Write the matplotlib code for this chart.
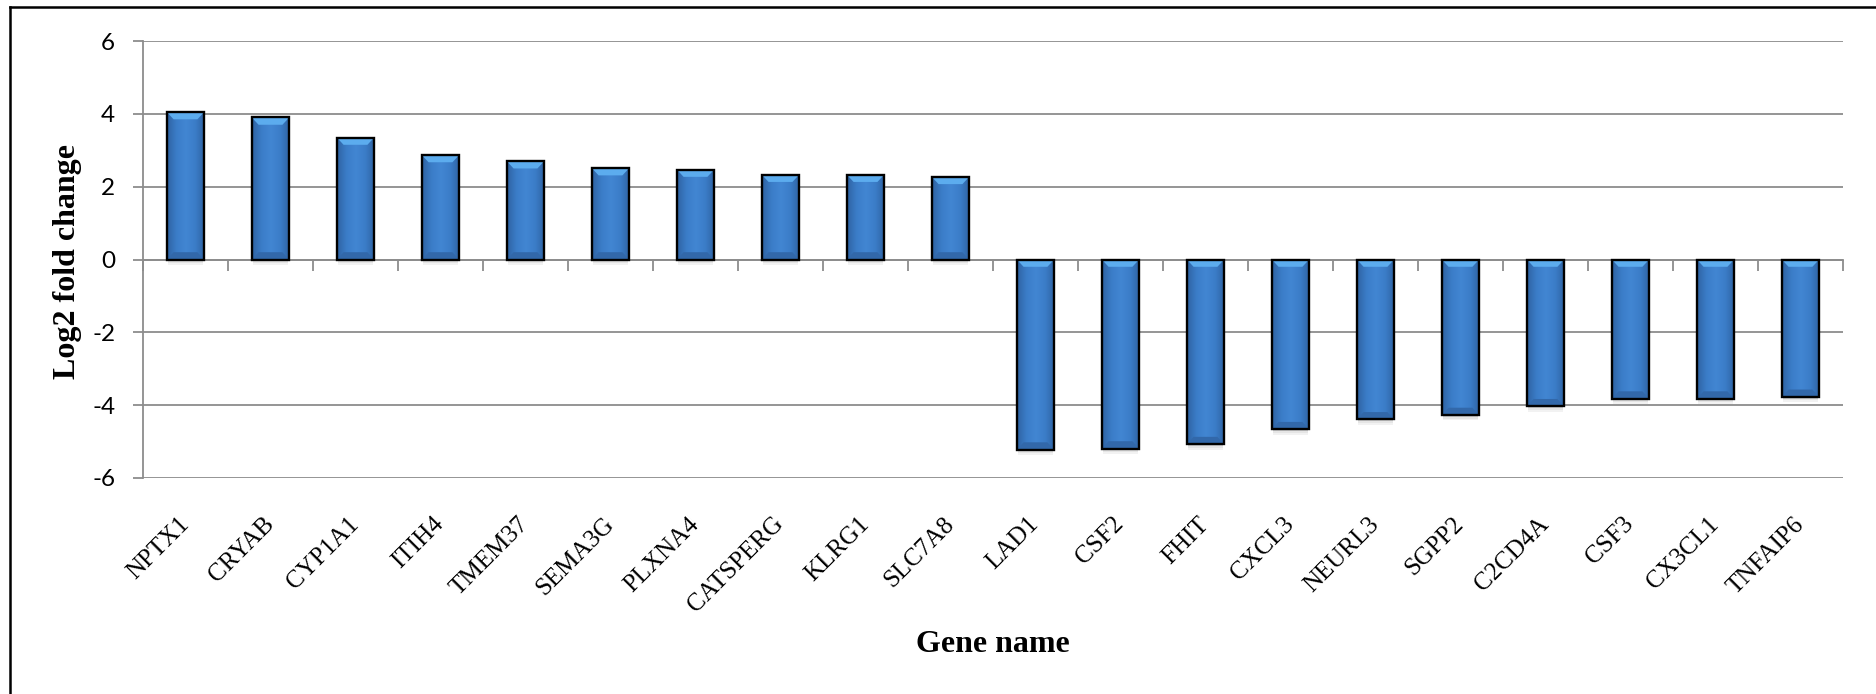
import numpy as np
import matplotlib
matplotlib.use('Agg')
import matplotlib.pyplot as plt
import matplotlib.transforms as mtransforms
from matplotlib.patches import Polygon, Rectangle
from matplotlib.lines import Line2D
from matplotlib.colors import LinearSegmentedColormap

genes = ['NPTX1', 'CRYAB', 'CYP1A1', 'ITIH4', 'TMEM37', 'SEMA3G', 'PLXNA4',
         'CATSPERG', 'KLRG1', 'SLC7A8', 'LAD1', 'CSF2', 'FHIT', 'CXCL3',
         'NEURL3', 'SGPP2', 'C2CD4A', 'CSF3', 'CX3CL1', 'TNFAIP6']
log2fc = [4.05, 3.90, 3.35, 2.87, 2.70, 2.51, 2.47, 2.33, 2.33, 2.27,
          -5.22, -5.19, -5.07, -4.66, -4.39, -4.27, -4.03, -3.82, -3.82, -3.77]
yticks = [-6, -4, -2, 0, 2, 4, 6]

W, H = 1876, 694
GRID = '#8c8c8c'

fig = plt.figure(figsize=(W / 100, H / 100), dpi=100)
ax = fig.add_axes([143 / W, 1 - 478 / H, 1700 / W, 437 / H])

x = np.arange(len(genes))
bar_w = 0.44
bars = ax.bar(x, log2fc, width=bar_w, facecolor='none', edgecolor='black',
              linewidth=1.7, zorder=5)

# bevelled blue fill for each bar
body = LinearSegmentedColormap.from_list(
    'body', ['#2f63a3', '#3b7dc8', '#4286d2', '#3b7dc8', '#2f63a3'])
grad = np.linspace(0, 1, 64).reshape(1, -1)
dx, dy = 0.08, 0.2
for b in bars:
    x0, w = b.get_x(), b.get_width()
    y0, h = b.get_y(), b.get_height()
    yb, yt = min(y0, y0 + h), max(y0, y0 + h)
    ax.imshow(grad, cmap=body, extent=[x0, x0 + w, yb, yt], aspect='auto',
              interpolation='bicubic', zorder=3)
    ax.add_patch(Polygon([(x0, yt), (x0 + w, yt), (x0 + w - dx, yt - dy),
                          (x0 + dx, yt - dy)], closed=True,
                         facecolor='#5cacee', edgecolor='none', zorder=4))
    ax.add_patch(Polygon([(x0, yb), (x0 + w, yb), (x0 + w - dx, yb + dy),
                          (x0 + dx, yb + dy)], closed=True,
                         facecolor='#3268aa', edgecolor='none', zorder=4))
    # soft drop shadow under the bar
    for k, a in enumerate([0.18, 0.10, 0.05]):
        ax.add_patch(Rectangle((x0 + 0.01, yb - 0.05 * (k + 1)), w - 0.02, 0.05,
                               facecolor='black', edgecolor='none', alpha=a,
                               zorder=2.9))

ax.set_xlim(-0.5, len(genes) - 0.5)
ax.set_ylim(-6, 6)
ax.set_yticks(yticks)
ax.set_yticklabels([str(t) for t in yticks], family='Lato', fontsize=17.5)
ax.yaxis.grid(True, color=GRID, linewidth=1.3)
ax.set_axisbelow(True)

ax.set_xticks(np.arange(len(genes) + 1) - 0.5)
ax.tick_params(axis='x', direction='out', length=8, width=1.3, color=GRID,
               labelbottom=False)
ax.tick_params(axis='y', direction='out', length=7, width=1.3, color=GRID, pad=13)

ax.spines['bottom'].set_position(('data', 0))
ax.spines['bottom'].set_color(GRID)
ax.spines['bottom'].set_linewidth(1.3)
ax.spines['left'].set_color(GRID)
ax.spines['left'].set_linewidth(1.3)
ax.spines['top'].set_visible(False)
ax.spines['right'].set_visible(False)

trans = mtransforms.blended_transform_factory(ax.transData, ax.transAxes)
for i, g in enumerate(genes):
    ax.text(i, -0.098, g, transform=trans, rotation=45, rotation_mode='anchor',
            ha='right', va='center', fontsize=18, family='Liberation Serif')

fig.text(67 / W, 0.6225, 'Log2 fold change', rotation=90, ha='center',
         va='center', fontsize=23, fontweight='bold', family='Liberation Serif')
fig.text(993 / W, 1 - 652 / H, 'Gene name', ha='center', va='baseline',
         fontsize=23, fontweight='bold', family='Liberation Serif')

# outer frame (left and top edges)
fig.add_artist(Line2D([10 / W, 10 / W], [0, 1 - 7 / H], color='black', lw=1.8))
fig.add_artist(Line2D([10 / W, 1], [1 - 7 / H, 1 - 7 / H], color='black', lw=1.8))

fig.savefig('out.png', dpi=100)
